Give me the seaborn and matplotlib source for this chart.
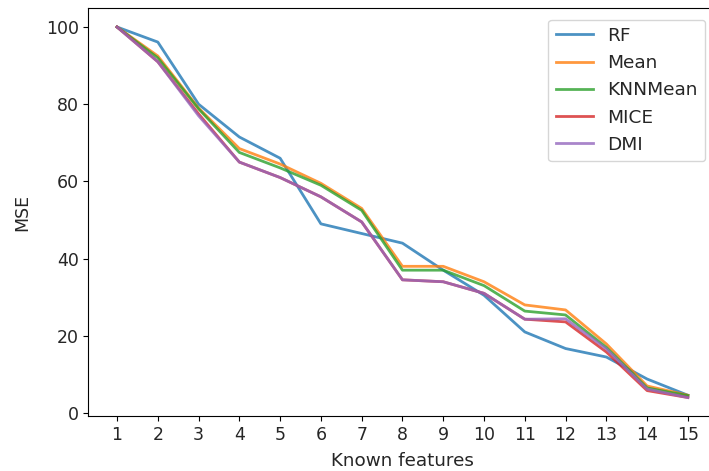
import numpy as np
import pandas as pd
import matplotlib
matplotlib.use("Agg")
import matplotlib.pyplot as plt
import seaborn as sns

known_features = list(range(1, 16))
rf       = [100, 96.1, 80.0, 71.5, 66.0, 49.0, 46.5, 44.0, 37.0, 30.5, 21.0, 16.7, 14.5, 8.8, 4.6]
mean     = [100, 92.5, 79.0, 68.5, 64.5, 59.5, 53.0, 38.0, 38.0, 34.0, 28.0, 26.7, 17.9, 7.0, 4.6]
knn_mean = [100, 92.0, 78.8, 67.5, 63.5, 59.0, 52.5, 37.0, 37.0, 33.0, 26.4, 25.4, 17.0, 6.5, 4.5]
mice     = [100, 91.0, 77.5, 65.0, 61.0, 56.0, 49.5, 34.5, 34.0, 31.0, 24.3, 23.6, 15.8, 5.8, 4.0]
dmi      = [100, 91.0, 77.0, 65.0, 61.0, 56.0, 49.5, 34.5, 34.0, 31.0, 24.3, 24.4, 16.6, 6.2, 4.0]

methods = ["RF", "Mean", "KNNMean", "MICE", "DMI"]
series = [rf, mean, knn_mean, mice, dmi]

df = pd.DataFrame({
    "Known features": np.tile(known_features, len(methods)),
    "MSE": np.concatenate(series),
    "method": np.repeat(methods, len(known_features)),
})

plt.rcParams["font.family"] = ["DejaVu Sans"]
plt.rcParams["font.size"] = 12.5
plt.rcParams["text.color"] = "#262626"
plt.rcParams["axes.labelcolor"] = "#262626"
plt.rcParams["xtick.labelcolor"] = "#262626"
plt.rcParams["ytick.labelcolor"] = "#262626"

fig = plt.figure(figsize=(7.09, 4.71), dpi=100)
ax = fig.add_axes([0.1248, 0.1166, 0.8857, 0.8654])
sns.lineplot(data=df, x="Known features", y="MSE", hue="method",
             hue_order=methods, palette="tab10", alpha=0.8, linewidth=2.0, ax=ax)
ax.set_xticks(known_features)
ax.set_xlim(0.3, 15.7)
ax.set_ylim(-0.8, 104.8)
ax.set_yticks([0, 20, 40, 60, 80, 100])
ax.spines["right"].set_visible(False)
ax.tick_params(labelsize=12.5)
ax.set_xlabel("Known features", fontsize=13.2, labelpad=6)
ax.set_ylabel("MSE", fontsize=12.5, labelpad=10.5)
leg = ax.legend(loc="upper right", fontsize=13.3, borderaxespad=0.6)
leg.set_title(None)
fig.savefig("out.png", dpi=100)
